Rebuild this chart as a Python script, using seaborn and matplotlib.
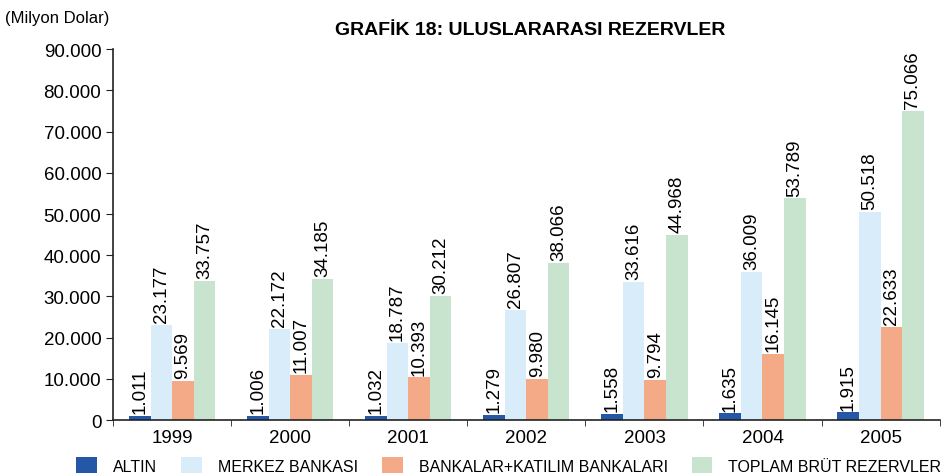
import pandas as pd
import seaborn as sns
import matplotlib.pyplot as plt
from matplotlib.ticker import FuncFormatter, FixedLocator
from matplotlib.patches import Patch

# Data (milyon dolar)
years = ['1999', '2000', '2001', '2002', '2003', '2004', '2005']
series = ['ALTIN', 'MERKEZ BANKASI', 'BANKALAR+KATILIM BANKALARI', 'TOPLAM BRÜT REZERVLER']
altin = [1011, 1006, 1032, 1279, 1558, 1635, 1915]
merkez = [23177, 22172, 18787, 26807, 33616, 36009, 50518]
bankalar = [9569, 11007, 10393, 9980, 9794, 16145, 22633]
toplam = [33757, 34185, 30212, 38066, 44968, 53789, 75066]
colors = ['#2457a6', '#d9ecfa', '#f4aa86', '#c8e4cf']

rows = []
for name, vals in zip(series, [altin, merkez, bankalar, toplam]):
    for y, v in zip(years, vals):
        rows.append({'year': y, 'seri': name, 'deger': v})
df = pd.DataFrame(rows)

sns.set_style('white')
plt.rcParams['font.family'] = ['Liberation Sans', 'DejaVu Sans']
plt.rcParams['text.color'] = 'black'
plt.rcParams['xtick.color'] = '#222222'
plt.rcParams['ytick.color'] = '#222222'
plt.rcParams['xtick.labelcolor'] = 'black'
plt.rcParams['ytick.labelcolor'] = 'black'

fig = plt.figure(figsize=(9.51, 4.77), dpi=100)
ax = fig.add_axes([0.119, 0.117, 0.869, 0.778])

sns.barplot(data=df, x='year', y='deger', hue='seri', palette=colors,
            width=0.73, saturation=1, ax=ax, legend=False,
            edgecolor='none', linewidth=0)

def tr_fmt(v, pos=None):
    return f"{v:,.0f}".replace(",", ".")

for cont in ax.containers:
    ax.bar_label(cont, labels=[tr_fmt(b.get_height()) for b in cont],
                 rotation=90, padding=2, fontsize=13.5, color='black')

ax.set_ylim(0, 90000)
ax.set_yticks(range(0, 90001, 10000))
ax.yaxis.set_major_formatter(FuncFormatter(tr_fmt))
ax.set_xlim(-0.5, 6.5)
ax.tick_params(axis='x', which='major', length=0, labelsize=13.5, pad=6)
ax.xaxis.set_minor_locator(FixedLocator([i + 0.5 for i in range(-1, 7)]))
ax.tick_params(axis='x', which='minor', length=4, direction='out', bottom=True)
ax.tick_params(axis='y', length=5, direction='out', left=True, labelsize=13.5)
ax.set_xlabel('')
ax.set_ylabel('')
for s in ['top', 'right']:
    ax.spines[s].set_visible(False)
for s in ['left', 'bottom']:
    ax.spines[s].set_color('#222222')
    ax.spines[s].set_linewidth(1.2)

fig.text(0.005, 0.962, '(Milyon Dolar)', fontsize=12, va='center')
fig.text(0.557, 0.937, 'GRAFİK 18: ULUSLARARASI REZERVLER', fontsize=14,
         fontweight='bold', ha='center', va='center')

handles = [Patch(facecolor=c, edgecolor='none') for c in colors]
fig.legend(handles, series, loc='center', bbox_to_anchor=(0.535, 0.022), ncol=4,
           frameon=False, fontsize=11.5, handlelength=1.3, handleheight=1.1,
           handletextpad=1.0, columnspacing=1.5, borderpad=0.2)

plt.savefig('out.png', dpi=100)
